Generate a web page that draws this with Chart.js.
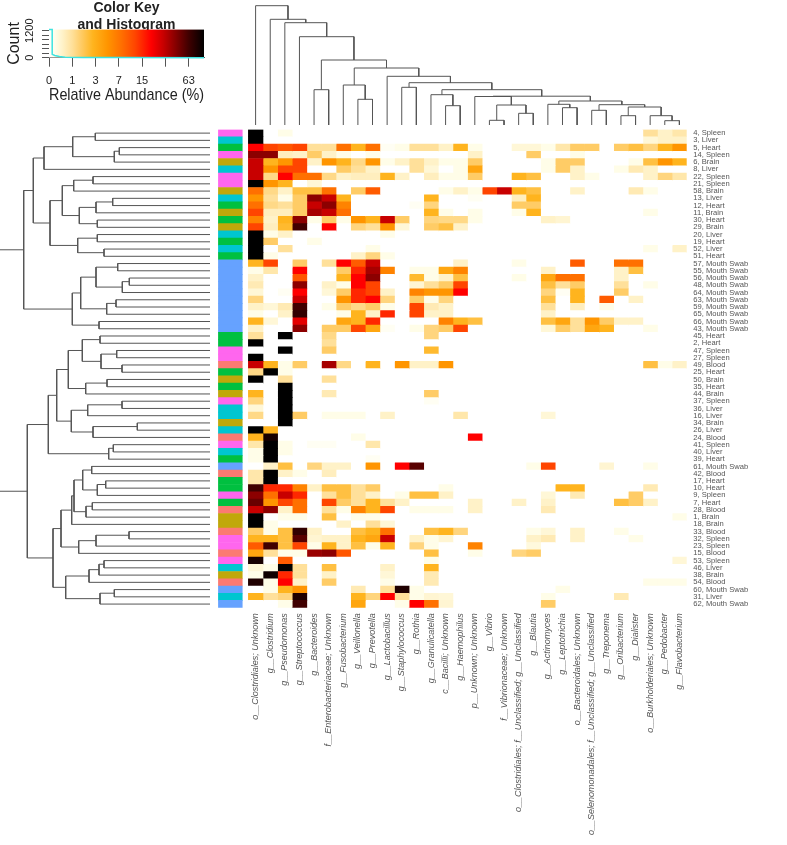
<!DOCTYPE html>
<html>
<head>
<meta charset="utf-8">
<title>Heatmap</title>
<script src="https://cdn.jsdelivr.net/npm/chart.js@4"></script>
<style>
  html, body { margin: 0; padding: 0; background: #fff; }
  canvas { position: absolute; }
</style>
</head>
<body>
<canvas id="heat" width="787" height="845" style="left:0;top:0"></canvas>
<canvas id="colDendro" width="460" height="126" style="left:240px;top:0"></canvas>
<canvas id="rowDendro" width="212" height="500" style="left:0;top:120px"></canvas>
<canvas id="colorKey" width="220" height="110" style="left:0;top:0"></canvas>
<script>
const taxa = ["o__Clostridiales; Unknown","g__Clostridium","g__Pseudomonas","g__Streptococcus","g__Bacteroides","f__Enterobacteriaceae; Unknown","g__Fusobacterium","g__Veillonella","g__Prevotella","g__Lactobacillus","g__Staphylococcus","g__Rothia","g__Granulicatella","c__Bacilli; Unknown","g__Haemophilus","p__Unknown; Unknown","g__Vibrio","f__Vibrionaceae; Unknown","o__Clostridiales; f__Unclassified; g__Unclassified","g__Blautia","g__Actinomyces","g__Leptotrichia","o__Bacteroidales; Unknown","o__Selenomonadales; f__Unclassified; g__Unclassified","g__Treponema","g__Oribacterium","g__Dialister","o__Burkholderiales; Unknown","g__Pedobacter","g__Flavobacterium"];

const samples = ["4, Spleen","3, Liver","5, Heart","14, Spleen","6, Brain","8, Liver","22, Spleen","21, Spleen","58, Brain","13, Liver","12, Heart","11, Brain","30, Heart","29, Brain","20, Liver","19, Heart","52, Liver","51, Heart","57, Mouth Swab","55, Mouth Swab","56, Mouth Swab","48, Mouth Swab","64, Mouth Swab","63, Mouth Swab","59, Mouth Swab","65, Mouth Swab","66, Mouth Swab","43, Mouth Swab","45, Heart","2, Heart","47, Spleen","27, Spleen","49, Blood","25, Heart","50, Brain","35, Heart","44, Brain","37, Spleen","36, Liver","16, Liver","34, Brain","26, Liver","24, Blood","41, Spleen","40, Liver","39, Heart","61, Mouth Swab","42, Blood","17, Heart","10, Heart","9, Spleen","7, Heart","28, Blood","1, Brain","18, Brain","33, Blood","32, Spleen","23, Spleen","15, Blood","53, Spleen","46, Liver","38, Brain","54, Blood","60, Mouth Swab","31, Liver","62, Mouth Swab"];

// relative abundance (%) per sample, same order as taxa
const s4  = [100,0,.2,0,0,0,0,0,0,0, 0,0,0,0,0,0,0,0,0,0, 0,0,0,0,0,0,0,1,.5,.8];
const s3  = [100,0,0,0,0,0,0,0,0,0, 0,0,0,0,0,0,0,0,0,0, 0,0,0,0,0,0,0,.35,.5,.5];
const s5  = [20,12,10,12,1,1,7.6,2.7,7.6,.1, .2,1,1,.5,2.7,.2,0,0,.35,.35, .2,.8,1.6,1.6,0,1.6,2.1,1.3,2.7,4.7];
const s14 = [41,41,.6,.5,1.6,.5,.2,0,.2,0, 0,0,0,0,0,.5,0,0,0,1.6, 0,0,.2,0,0,0,0,0,0,0];
const s6  = [29,2.7,4.7,12,.5,4.7,2.7,1.2,4.7,.2, .5,1,.5,.2,.2,1.6,0,0,0,0, .2,1.6,1.6,0,0,0,.2,2.1,4.7,2.7];
const s8  = [29,4.7,12,12,0,0,1.6,1,.5,0, 0,1,.35,0,.2,3.5,0,0,0,0, .2,1.6,.5,0,0,.2,.7,.5,0,0];
const s22 = [29,1.2,20,7.6,7.6,1.2,.5,.6,.6,2.7, .5,0,.6,.2,.2,1.6,0,0,2.7,2.1, 0,0,.5,.2,0,0,0,.5,1.3,.8];
const s21 = [100,4.7,2.7,0,.35,0,0,0,0,0, 0,0,0,0,0,0,0,0,0,0, 0,0,0,0,0,0,0,0,0,0];
const s58 = [7.6,1.2,.5,2.1,2.1,7.6,0,1.6,9.5,0, 0,0,0,.2,.5,.2,12,29,2.7,2.1, 0,0,.5,0,0,0,.7,.2,0,0];
const s13 = [4.7,1,.2,1.6,41,29,2.7,0,0,0, 0,0,2.7,0,0,.1,0,0,.6,2.7, 0,0,0,0,0,0,0,0,0,0];
const s12 = [7.6,1.2,1,1.6,29,41,6,0,0,0, 0,.1,1.3,0,0,0,0,0,1.6,1.6, 0,0,0,0,0,0,0,0,0,0];
const s11 = [12,.6,.6,1.6,35,29,7.6,0,0,0, 0,0,2.7,.2,0,.2,0,0,.2,2.7, 0,0,0,0,0,0,0,.2,0,0];
const s30 = [6,.5,2.7,41,.2,1.6,.2,4.7,2.7,29, 1.6,0,1.3,1.2,1.2,.2,0,0,0,0, .5,.4,0,0,0,0,0,0,0,0];
const s29 = [12,.6,2.4,63,0,20,0,1.3,1,4.7, .35,0,1.6,2.1,.5,0,0,0,0,0, 0,0,0,0,0,0,0,0,0,0];
const s20 = [100,.2,.5,0,0,0,0,0,0,.2, 0,0,0,0,0,0,0,0,0,0, 0,0,0,0,0,0,0,0,0,0];
const s19 = [100,1.6,0,0,.2,0,0,0,0,0, 0,0,0,0,0,0,0,0,0,0, 0,0,0,0,0,0,0,0,0,0];
const s52 = [100,0,1,0,0,0,0,0,.2,0, 0,0,0,0,0,0,0,0,0,0, 0,0,0,0,0,0,0,.2,0,.5];
const s51 = [100,.2,0,0,0,0,0,.5,1.3,.2, 0,0,0,0,0,0,0,0,0,0, 0,0,0,0,0,0,0,0,0,0];
const s57 = [2.7,12,0,1.6,0,1,20,9.5,29,0, 0,0,0,0,.5,0,0,0,.2,0, 0,0,9.5,0,0,7.6,7.6,0,0,0];
const s55 = [.2,.8,0,20,0,0,1.6,15,35,6, 0,.2,.2,3.5,6,0,0,0,0,0, .5,0,0,0,0,.5,2.1,0,0,0];
const s56 = [.5,0,0,10,0,0,2.7,20,41,0, 0,2.4,.2,.5,2.1,0,0,0,.2,0, 3.5,7.6,7.6,0,0,.5,0,0,0,0];
const s48 = [.7,0,0,41,0,.5,.2,20,12,0, 0,.4,1,1.6,12,0,0,0,0,0, 2.1,1,1.6,0,0,1,0,.2,0,0];
const s64 = [.35,0,.1,20,0,.35,1.6,15,12,.5, 0,6,4.7,4.7,20,0,0,0,0,0, 1.3,.1,2.7,0,0,1.6,0,0,0,0];
const s63 = [1.3,0,0,29,0,0,4.7,15,20,1.3, 0,1.6,.2,1.3,0,0,0,0,0,0, 2.1,0,2.7,0,9.5,0,.5,0,0,0];
const s59 = [.5,.35,.7,63,0,.2,1.6,1.2,1.6,.2, 0,12,.7,.5,0,0,0,0,0,0, 1,0,.6,0,.2,0,0,0,0,0];
const s65 = [.2,0,.5,70,0,0,.2,2.7,.5,15, 0,12,.5,.5,0,0,0,0,0,0, .5,0,0,0,0,0,0,0,0,0];
const s66 = [2.7,.35,0,24,0,0,3.5,2.7,15,0, 0,0,0,6,2.7,2.1,0,0,0,0, 2.1,3.5,1,4.7,1.6,.5,.5,0,0,0];
const s43 = [.5,0,0,41,0,1.6,1.6,12,3.5,.1, 0,.2,1.3,1.6,12,0,0,0,0,0, .35,1.6,1,3.5,2.7,0,0,.2,0,0];
const s45 = [1,0,100,0,0,1.2,0,0,0,0, 0,0,1.3,0,0,0,0,0,0,0, 0,0,0,0,0,0,0,0,0,0];
const s2  = [100,0,0,0,0,1,0,0,0,0, 0,0,0,0,0,0,0,0,0,0, 0,0,0,0,0,0,0,0,0,0];
const s47 = [0,0,100,0,0,1.6,0,0,0,0, 0,0,2.4,0,0,0,0,0,0,0, 0,0,0,0,0,0,0,0,0,0];
const s27 = [100,0,0,0,0,0,0,0,0,0, 0,0,0,0,0,0,0,0,0,0, 0,0,0,0,0,0,0,0,0,0];
const s49 = [29,2.7,.2,1.6,0,35,1.2,0,2.7,0, 4.7,.5,.5,4.7,0,0,0,0,0,0, 0,0,0,0,0,0,0,2.1,.2,.5];
const s25 = [1.2,100,.2,0,0,0,0,0,0,0, 0,0,0,0,0,0,0,0,0,0, 0,0,0,0,0,0,0,0,0,0];
const s50 = [100,0,1,0,0,1,0,0,0,0, 0,0,0,0,0,0,0,0,0,0, 0,0,0,0,0,0,0,0,0,0];
const s35 = [0,0,100,0,0,0,0,0,0,0, 0,0,0,0,0,0,0,0,0,0, 0,0,0,0,0,0,0,0,0,0];
const s44 = [2.7,0,100,0,0,.7,0,0,0,0, 0,0,1.6,0,0,0,0,0,0,0, 0,0,0,0,0,0,0,0,0,0];
const s37 = [1.3,0,100,0,0,0,0,0,0,0, 0,0,.1,0,0,0,0,0,0,0, 0,0,0,0,0,0,0,0,0,0];
const s36 = [.35,0,100,0,0,0,0,0,0,0, 0,0,0,0,0,0,0,0,0,0, 0,0,0,0,0,0,0,0,0,0];
const s16 = [1.2,0,100,1.6,0,.2,.2,.2,0,.5, 0,0,0,0,.8,0,0,0,0,0, .35,0,0,0,0,0,0,0,0,0];
const s34 = [0,0,100,0,0,0,0,0,0,0, 0,0,0,0,0,0,0,0,0,0, 0,0,0,0,0,0,0,0,0,0];
const s26 = [100,2.7,0,0,0,0,0,0,0,0, 0,0,0,0,0,0,0,0,0,0, 0,0,0,0,0,0,0,0,0,0];
const s24 = [2.7,85,0,0,0,0,0,.2,0,0, 0,0,0,0,0,20,0,0,0,0, 0,0,0,0,0,0,0,0,0,0];
const s41 = [.8,100,.2,0,.1,.1,0,0,.8,0, 0,0,0,0,0,0,0,0,0,0, 0,0,0,0,0,0,0,0,0,0];
const s40 = [.2,100,.2,0,0,0,0,0,0,0, 0,0,0,0,0,0,0,0,0,0, 0,0,0,0,0,0,0,0,0,0];
const s39 = [.2,100,0,0,0,0,0,0,.1,0, 0,0,0,0,0,0,0,0,0,0, 0,0,0,0,0,0,0,0,0,0];
const s61 = [0,.5,2.1,0,1.3,.5,.5,0,4.7,0, 20,55,0,0,0,0,0,0,0,.2, 12,0,0,0,.4,0,0,.2,0,0];
const s42 = [.8,100,.5,.2,0,.6,0,0,0,0, 0,0,0,0,0,0,0,0,0,0, 0,0,0,0,0,0,0,0,0,0];
const s17 = [.8,100,0,0,0,0,0,0,0,0, 0,0,0,0,0,0,0,0,0,0, 0,0,0,0,0,0,0,0,0,0];
const s10 = [63,15,15,6,.5,2.1,2.1,1,1.6,0, 0,0,0,.2,0,0,0,0,0,0, 0,2.7,2.7,0,0,0,0,.7,0,0];
const s9  = [41,7.6,29,15,0,1,2.1,1,.5,0, .2,2.1,2.1,.5,0,0,0,0,0,0, .35,0,.7,0,0,0,1.6,0,0,0];
const s7  = [50,4.7,12,7.6,0,12,1.6,1,2.7,1, .5,0,0,0,0,.5,0,0,.5,0, .5,0,0,0,0,2.1,1.6,.5,0,0];
const s28 = [29,41,.5,7.6,0,1,.2,6,2.7,12, 0,.2,.2,.2,0,.5,0,0,0,0, .7,0,0,0,0,0,0,0,0,0];
const s1  = [100,0,.2,.2,0,2.1,0,.2,.2,0, 0,0,0,0,0,0,0,0,0,0, 0,0,0,0,0,0,0,0,0,.2];
const s18 = [100,.2,0,0,0,0,.5,0,1,.35, 0,0,0,0,0,0,0,0,0,0, 0,0,0,0,0,0,0,0,0,0];
const s33 = [1.6,.2,2.1,70,.5,0,0,2.1,2.7,7.6, 0,0,2.1,2.7,1.3,0,0,0,0,.2, .35,0,.5,0,0,.2,0,0,0,0];
const s32 = [2.7,2.7,2.1,55,.4,.5,.5,2.7,3.5,29, 0,.5,.2,.4,0,0,0,0,0,.5, .7,0,.5,0,0,0,.2,0,0,0];
const s23 = [9.5,63,2.1,12,.2,2.7,.5,2.1,.2,2.7, 0,1.3,.2,0,0,6,0,0,0,.3, 0,0,0,0,0,0,0,0,0,0];
const s15 = [3.5,1,.2,.2,38,41,10,0,0,0, 0,0,2.1,0,0,.2,0,0,1.3,1.6, 0,0,0,0,0,0,0,0,0,0];
const s53 = [85,0,9.5,0,0,0,0,0,0,0, 0,0,.2,0,0,0,0,0,0,0, 0,0,0,0,0,0,0,0,0,.35];
const s46 = [.35,.2,100,1,0,2.1,0,0,0,.5, 0,0,2.7,0,0,0,0,0,0,0, 0,0,0,0,0,0,0,0,0,0];
const s38 = [.2,90,15,1,0,.5,0,0,0,.35, 0,0,.7,0,0,0,0,0,0,0, 0,0,0,0,0,0,0,0,0,0];
const s54 = [80,.2,20,.5,0,1.6,0,0,0,.2, 0,0,.7,0,0,0,0,0,0,0, 0,0,0,0,0,0,0,.2,.2,.2];
const s60 = [0,.2,2.7,4.7,0,0,0,.7,0,1, 80,.2,0,0,0,0,0,0,0,0, 0,.2,0,0,0,0,0,0,0,0];
const s31 = [2.7,1,1.3,80,0,0,0,2.7,1.3,20, 1,.2,.4,.35,0,0,0,0,0,0, .2,0,0,0,0,.7,0,0,0,0];
const s62 = [0,0,.2,63,0,0,0,3.5,0,0, .2,20,7.6,.4,0,0,0,0,0,0, 1.6,0,0,0,0,0,0,0,0,0];

const rows = [s4,s3,s5,s14,s6,s8,s22,s21,s58,s13,s12,s11,s30,s29,s20,s19,s52,s51,s57,s55,s56,s48,s64,s63,s59,s65,s66,s43,s45,s2,s47,s27,s49,s25,s50,s35,s44,s37,s36,s16,s34,s26,s24,s41,s40,s39,s61,s42,s17,s10,s9,s7,s28,s1,s18,s33,s32,s23,s15,s53,s46,s38,s54,s60,s31,s62];

// dendrograms: [height, left, right], 0 is a leaf
const colTail = [24,[20.7,0,[17.3,0,0]],[20.3,[14.7,0,0],[18,[9.3,0,0],[9.3,0,[4.3,0,0]]]]];
const colMid = [28.8,[28.5,0,[20,[4.7,0,0],[11.7,0,0]]],colTail];
const colInner = [57,[40,0,[25.7,0,0]],[48.7,0,[42.3,[37.7,0,0],[35.3,[30.3,0,[19.3,0,0]],colMid]]]];
const colTree = [119.3,0,[105.7,0,[102.3,0,[88.3,0,[65,[35.3,0,0],colInner]]]]];

const rowTreeTop = [186.3,
  [176.7,[166,[137.3,[114.7,0,0],[95.7,[90.7,0,0],0]],0],[160,[147.7,[136.3,[117,0,0],0],[130.7,[114,[97.3,0,0],0],[112.7,0,0]]],[132.3,[112.7,0,0],[106,0,0]]]],
  [137.7,[129.3,[114,[92.3,0,0],[87.7,[80.7,0,0],0]],[103.3,[94,0,0],0]],[111,0,0]]];
const rowTreeBottom = [182.7,
  [161.7,[153.3,[141.7,[127.7,[110,0,0],[109,[93.3,0,0],[88,0,0]]],[124.3,[103,0,0],0]],[138.7,[122.3,[88,0,0],0],[117,[72.7,0,0],0]]],[101.3,[96.7,0,0],0]],
  [157,[149,[138.3,[136,[127.3,[118.3,0,0],[112.7,[104.3,0,0],0]],[124,[117.7,0,0],0]],0],[131.3,[114,[81,0,0],0],0]],[144.3,[121,[111,[106,0,0],0],0],[110,[95.7,0,0],0]]]];
const rowTree = [215,rowTreeTop,rowTreeBottom];

// color key
const keyTicks = [0,1,3,7,15,31,63];
const keyLabels = [0,1,3,7,15,63];
const countTicks = [0,200,400,600,800,1000,1200];
const histAbundance = [0,.1,.1,.19,.36,.62,1.8,7,100];
const histCount = [1250,1250,150,100,50,20,10,5,0];

const tissueColors = {Blood:"#fb7a72", Brain:"#c0a80a", Heart:"#00c040", Liver:"#00c6d0", "Mouth Swab":"#66a2ff", Spleen:"#ff66ee"};
const stopValues = [0,.2,.5,1,1.6,2.7,4.7,7.6,12,20,29,41,63,100];
const stopColors = ["#ffffff","#fffde8","#fff2c8","#ffe09a","#ffcc66","#ffb41e","#ff9500","#ff7000","#ff4500","#ff0000","#c80000","#8c0000","#400000","#000000"];

const toLog = v => Math.log2(v + 1);
const keyMax = toLog(100);

function heatColor(v) {
  if (v <= 0) return "#ffffff";
  let i = 0;
  while (i < stopValues.length - 2 && v > stopValues[i + 1]) i++;
  const t = (toLog(v) - toLog(stopValues[i])) / (toLog(stopValues[i + 1]) - toLog(stopValues[i]));
  const a = parseInt(stopColors[i].slice(1), 16), b = parseInt(stopColors[i + 1].slice(1), 16);
  const mix = s => Math.round(((a >> s) & 255) * (1 - t) + ((b >> s) & 255) * t);
  return `rgb(${mix(16)},${mix(8)},${mix(0)})`;
}

// heatmap, every cell a floating bar, plus the tissue side bar
const cellSets = taxa.map((name, c) => ({
  label: name,
  data: rows.map(() => [c, c + 1]),
  backgroundColor: rows.map(r => heatColor(r[c]))
}));
cellSets.push({
  label: "Tissue",
  data: rows.map(() => [-2.05, -0.42]),
  backgroundColor: samples.map(s => tissueColors[s.split(", ")[1]])
});

new Chart(document.getElementById("heat"), {
  type: "bar",
  data: { labels: samples, datasets: cellSets },
  options: {
    indexAxis: "y",
    responsive: false,
    animation: false,
    events: [],
    grouped: false,
    barPercentage: 1,
    categoryPercentage: 1,
    borderWidth: 0,
    layout: { padding: { left: 217.7, right: 6.3, top: 129.5, bottom: 2.3 } },
    plugins: { legend: { display: false }, tooltip: { enabled: false } },
    scales: {
      x: {
        type: "linear", min: -2.1, max: 30,
        grid: { display: false, drawTicks: false }, border: { display: false },
        afterBuildTicks: s => { s.ticks = taxa.map((t, i) => ({ value: i + 0.5 })); },
        afterFit: s => { s.height = 235; },
        ticks: {
          autoSkip: false, minRotation: 90, maxRotation: 90, padding: 5.6,
          color: "#555", font: { family: "Liberation Sans", size: 9, style: "italic" },
          callback: v => taxa[Math.floor(v)]
        }
      },
      y: {
        position: "right",
        grid: { display: false, drawTicks: false }, border: { display: false },
        afterFit: s => { s.width = 94; },
        ticks: {
          autoSkip: false, padding: 6.6, color: "#555",
          font: { family: "Liberation Sans", size: 7.6 }
        }
      }
    }
  }
});

// one line dataset per branch of a dendrogram
function treeLinks(tree, toPoint) {
  const links = [];
  let leaf = 0;
  (function walk(n) {
    if (n === 0) return { pos: leaf++ + 0.5, h: 0 };
    const a = walk(n[1]), b = walk(n[2]);
    links.push({
      data: [toPoint(a.pos, a.h), toPoint(a.pos, n[0]), toPoint(b.pos, n[0]), toPoint(b.pos, b.h)],
      showLine: true, pointRadius: 0, borderWidth: 1, borderColor: "#555", tension: 0
    });
    return { pos: (a.pos + b.pos) / 2, h: n[0] };
  })(tree);
  return links;
}

new Chart(document.getElementById("colDendro"), {
  type: "scatter",
  data: { datasets: treeLinks(colTree, (pos, h) => ({ x: pos, y: h })) },
  options: {
    responsive: false, animation: false, events: [],
    layout: { padding: { left: 8.3, right: 13.3, top: 0, bottom: 1 } },
    plugins: { legend: { display: false }, tooltip: { enabled: false } },
    scales: {
      x: { type: "linear", min: 0, max: 30, display: false },
      y: { type: "linear", min: 0, max: 125, display: false }
    }
  }
});

new Chart(document.getElementById("rowDendro"), {
  type: "scatter",
  data: { datasets: treeLinks(rowTree, (pos, h) => ({ x: h, y: pos })) },
  options: {
    responsive: false, animation: false, events: [],
    layout: { padding: { left: 0, right: 2, top: 9.5, bottom: 12.3 } },
    plugins: { legend: { display: false }, tooltip: { enabled: false } },
    scales: {
      x: { type: "linear", min: 0, max: 210, reverse: true, display: false },
      y: { type: "linear", min: 0, max: 66, reverse: true, display: false }
    }
  }
});

// color key with the count histogram on top of it
function keyGradient(ctx) {
  const area = ctx.chart.chartArea;
  if (!area) return "transparent";
  const g = ctx.chart.ctx.createLinearGradient(area.left, 0, area.right, 0);
  stopValues.forEach((v, i) => g.addColorStop(toLog(v) / keyMax, stopColors[i]));
  return g;
}

new Chart(document.getElementById("colorKey"), {
  type: "scatter",
  data: {
    datasets: [
      {
        data: histAbundance.map((v, i) => ({ x: toLog(v), y: histCount[i] })),
        showLine: true, pointRadius: 0, borderWidth: 1.5, borderColor: "#3fe3e0", tension: 0, clip: false
      },
      {
        data: [{ x: 0, y: 1262 }, { x: keyMax, y: 1262 }],
        showLine: true, pointRadius: 0, borderWidth: 0, fill: "origin", backgroundColor: keyGradient
      }
    ]
  },
  options: {
    responsive: false, animation: false, events: [],
    layout: { padding: { left: 0, right: 16, top: 0, bottom: 4.3 } },
    plugins: {
      legend: { display: false }, tooltip: { enabled: false },
      title: {
        display: true,
        fullSize: false,
        text: ["Color Key", "and Histogram"],
        color: "#222",
        font: { family: "Liberation Sans", size: 14, weight: "bold", lineHeight: 1.21 },
        padding: { top: 0, bottom: -4.6 }
      }
    },
    scales: {
      x: {
        type: "linear", min: 0, max: keyMax,
        grid: { drawOnChartArea: false, tickLength: 9, tickColor: "#555" },
        border: { color: "#555" },
        afterBuildTicks: s => { s.ticks = keyTicks.map(v => ({ value: toLog(v) })); },
        afterFit: s => { s.height = 48; },
        ticks: {
          autoSkip: false, maxRotation: 0, padding: 8, color: "#222",
          font: { family: "Liberation Sans", size: 11 },
          callback: v => { const n = Math.round(2 ** v - 1); return keyLabels.includes(n) ? String(n) : ""; }
        },
        title: {
          display: true, text: "Relative Abundance (%)", color: "#222",
          font: { family: "Liberation Sans", size: 17 }, padding: 0
        }
      },
      y: {
        type: "linear", min: 0, max: 1262,
        grid: { drawOnChartArea: false, tickLength: 7, tickColor: "#555" },
        border: { color: "#555" },
        afterBuildTicks: s => { s.ticks = countTicks.map(v => ({ value: v })); },
        afterFit: s => { s.width = 49; },
        ticks: {
          autoSkip: false, minRotation: 90, maxRotation: 90, crossAlign: "center", padding: 0,
          color: "#222", font: { family: "Liberation Sans", size: 11 },
          callback: v => (v === 0 || v === 1200) ? String(v) : ""
        },
        title: {
          display: true, text: "Count", color: "#222",
          font: { family: "Liberation Sans", size: 16 }, padding: { top: 4.5, bottom: 0 }
        }
      }
    }
  }
});
</script>
</body>
</html>
